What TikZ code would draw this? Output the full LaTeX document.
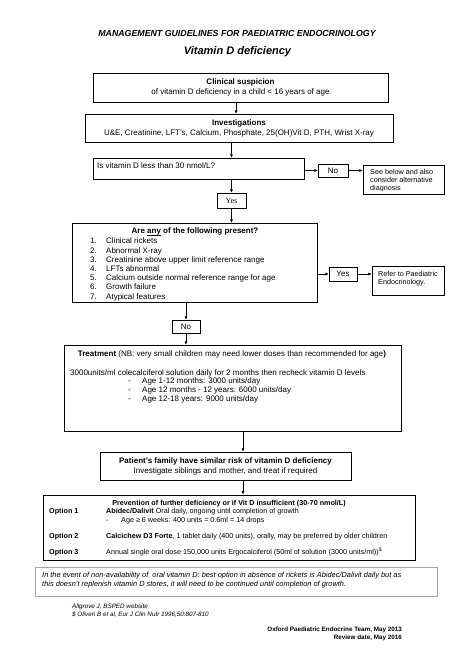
\documentclass[tikz,border=0pt]{standalone}
\usepackage{fontspec}
\setmainfont{Liberation Sans}
\newfontfamily\yesfont{Liberation Serif}
\usetikzlibrary{arrows.meta,calc}
\newcommand{\undr}[1]{{\setbox0\hbox{#1}\rlap{\rule[-1.4pt]{\wd0}{0.5pt}}\box0}}

\begin{document}
\begin{tikzpicture}[x=1pt,y=-1pt,
    txt/.style={inner sep=0pt,font=\fontsize{8}{10}\selectfont},
    small/.style={inner sep=0pt,font=\fontsize{7.2}{8}\selectfont},
    prevtxt/.style={inner sep=0pt,font=\fontsize{7.2}{9}\selectfont},
    box/.style={draw,line width=0.5pt,inner sep=0pt,txt},
    arr/.style={-{Latex[length=3.5pt,width=3pt]},line width=0.5pt}]
\useasboundingbox[fill=white] (0,0) rectangle (474,669);
% heading
\node[inner sep=0pt,font=\fontsize{8.8}{10}\selectfont\bfseries\itshape] (head) at (237,33)
    {MANAGEMENT GUIDELINES FOR PAEDIATRIC ENDOCRINOLOGY};
\node[inner sep=0pt,font=\fontsize{11}{13}\selectfont\bfseries\itshape] (title) at (237.5,52)
    {Vitamin D deficiency};
% boxes
\node[box,minimum width=295pt,minimum height=29pt,align=center] (clin) at (240.5,87.5)
    {\textbf{Clinical suspicion}\\of vitamin D deficiency in a child < 16 years of age};
\node[box,minimum width=308pt,minimum height=28pt,align=center] (inv) at (239,128)
    {\textbf{Investigations}\\U\&E, Creatinine, LFT's, Calcium, Phosphate, 25(OH)Vit D, PTH, Wrist X-ray};
\node[box,minimum width=211pt,minimum height=21pt] (isvit) at (198.5,168.5) {};
\node[txt,anchor=base west] (isvittxt) at (97,168.8) {Is vitamin D less than 30 nmol/L?};
\node[box,minimum width=30pt,minimum height=13pt] (no1) at (333,170.5) {No};
\begin{scope}
  \clip (363,165) rectangle (444,190.5);
  \node[small,anchor=north west,align=left] (seetxt) at (370,169.5)
      {See below and also\\consider alternative\\diagnosis};
\end{scope}
\node[box,minimum width=81pt,minimum height=29pt] (see) at (403.5,179.5) {};
\node[box,minimum width=29pt,minimum height=15pt,font=\yesfont\fontsize{8}{8}\selectfont] (yes1) at (231.5,200.5) {Yes};
% any of the following
\node[box,minimum width=245pt,minimum height=79pt] (anyq) at (194.5,262.5) {};
\node[txt,anchor=base,font=\fontsize{8}{10}\selectfont\bfseries] (anyhead) at (195,233.8)
    {Are \undr{any} of the following present?};
\foreach \feat [count=\i] in {Clinical rickets,Abnormal X-ray,Creatinine above upper limit reference range,
    LFTs abnormal,Calcium outside normal reference range for age,Growth failure,Atypical features} {
  \node[txt,anchor=base west] (num\i) at (90,{234.6+9.2*\i}) {\i.};
  \node[txt,anchor=base west] (feat\i) at (106,{234.6+9.2*\i}) {\feat};
}
\node[box,minimum width=28pt,minimum height=14pt] (yes2) at (343,274) {Yes};
\node[box,minimum width=72pt,minimum height=29pt] (refer) at (408,280.5) {};
\node[small,anchor=north west,align=left] (refertxt) at (378,271.5)
    {Refer to Paediatric\\Endocrinology.};
\node[box,minimum width=28pt,minimum height=13pt] (no2) at (186,326.5) {No};
% treatment
\node[box,minimum width=337pt,minimum height=86pt] (treat) at (232.5,388) {};
\node[txt,anchor=base] (treathead) at (232,356.8)
    {\textbf{Treatment} (NB: very small children may need lower doses than recommended for age\textbf{)}};
\node[txt,anchor=base west] (treatline) at (70,375.8)
    {3000units/ml colecalciferol solution daily for 2 months then recheck vitamin D levels};
\foreach \dose [count=\i] in {Age 1-12 months: 3000 units/day,Age 12 months - 12 years: 6000 units/day,
    Age 12-18 years: 9000 units/day} {
  \node[txt,anchor=base west] (dash\i) at (128,{374.8+9*\i}) {-};
  \node[txt,anchor=base west] (dose\i) at (142,{374.8+9*\i}) {\dose};
}
\node[box,minimum width=251pt,minimum height=28pt,align=center] (fam) at (225.5,466)
    {\textbf{Patient's family have similar risk of vitamin D deficiency}\\
     Investigate siblings and mother, and treat if required};
% prevention
\node[box,line width=1pt,minimum width=372pt,minimum height=65pt] (prev) at (229,527.5) {};
\node[prevtxt,anchor=base,font=\fontsize{7.2}{9}\selectfont\bfseries] (prevhead) at (229,505.6)
    {Prevention of further deficiency or if Vit D insufficient (30-70 nmol/L)};
\node[prevtxt,anchor=base west,font=\fontsize{7.2}{9}\selectfont\bfseries] (opt1) at (49,513.6) {Option 1};
\node[prevtxt,anchor=base west] (opt1txt) at (106,513.6)
    {\textbf{Abidec/Dalivit} Oral daily, ongoing until completion of growth};
\node[prevtxt,anchor=base west] (opt1dash) at (106,522.6) {-};
\node[prevtxt,anchor=base west] (opt1age) at (121,522.6) {Age ≥ 6 weeks: 400 units = 0.6ml = 14 drops};
\node[prevtxt,anchor=base west,font=\fontsize{7.2}{9}\selectfont\bfseries] (opt2) at (49,538.6) {Option 2};
\node[prevtxt,anchor=base west] (opt2txt) at (106,538.6)
    {\textbf{Calcichew D3 Forte}, 1 tablet daily (400 units), orally, may be preferred by older children};
\node[prevtxt,anchor=base west,font=\fontsize{7.2}{9}\selectfont\bfseries] (opt3) at (49,554.6) {Option 3};
\node[prevtxt,anchor=base west] (opt3txt) at (106,554.6)
    {Annual single oral dose 150,000 units Ergocalciferol (50ml of solution (3000 units/ml))\textsuperscript{\$}};
% note
\node[draw=gray!70,line width=0.8pt,inner sep=0pt,minimum width=402pt,minimum height=29pt] (note) at (236,581.5) {};
\node[inner sep=0pt,anchor=north west,align=left,font=\fontsize{7.4}{9.5}\selectfont\itshape] (notetxt) at (42,571.5)
    {In the event of non-availability of~ oral vitamin D: best option in absence of rickets is Abidec/Dalivit daily but as\\
     this doesn't replenish vitamin D stores, it will need to be continued until completion of growth.};
% references
\node[inner sep=0pt,anchor=north west,align=left,font=\fontsize{6.3}{8}\selectfont\itshape] (refs) at (72,603.5)
    {Allgrove J, BSPED website\\\$ Oliveri B et al, Eur J Clin Nutr 1996;50:807-810};
\node[inner sep=0pt,anchor=north east,align=right,font=\fontsize{6.3}{8}\selectfont\bfseries] (team) at (402,626.5)
    {Oxford Paediatric Endocrine Team, May 2013\\Review date, May 2016};
% arrows
\draw[arr] ([xshift=-4.5pt]clin.south) -- ([xshift=-4.5pt]clin.south |- inv.north);
\draw[arr] (inv.south -| yes1) -- (isvit.north -| yes1);
\draw[arr] (isvit.east |- no1) -- (no1.west);
\draw[arr] (no1.east) -- (no1.east -| see.west);
\draw[arr] (isvit.south -| yes1) -- (yes1.north);
\draw[arr] (yes1.south) -- (yes1.south |- anyq.north);
\draw[arr] (anyq.east |- yes2) -- (yes2.west);
\draw[arr] (yes2.east) -- (yes2.east -| refer.west);
\draw[arr] (anyq.south -| no2) -- (no2.north);
\draw[arr] (no2.south) -- (no2.south |- treat.north);
\draw[arr] ([xshift=17.5pt]fam.north |- treat.south) -- ([xshift=17.5pt]fam.north);
\draw[arr] ([xshift=17.5pt]fam.south) -- ([xshift=17.5pt]fam.south |- prev.north);
\end{tikzpicture}
\end{document}
